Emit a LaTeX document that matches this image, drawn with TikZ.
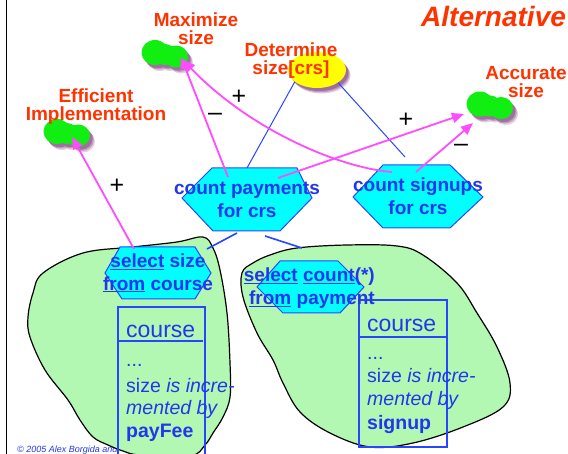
\documentclass[tikz,border=0pt]{standalone}
\usepackage{fontspec}
\setmainfont{Liberation Sans}
\usetikzlibrary{arrows.meta,shapes.geometric}
\definecolor{redc}{HTML}{FF3300}
\definecolor{bluet}{HTML}{2236EE}
\definecolor{blueb}{HTML}{2846FF}
\definecolor{cyanf}{HTML}{00FFFF}
\definecolor{magc}{HTML}{FF4CFF}
\definecolor{goalgreen}{HTML}{11EE11}
\definecolor{blobgreen}{HTML}{B2F7B2}
\definecolor{shadowc}{HTML}{6A1A6A}
\definecolor{yel}{HTML}{FFFF00}
\tikzset{
  goallabel/.style={text=redc, font=\fontsize{19}{18}\selectfont\bfseries, align=center, inner sep=0},
  tasktext/.style={text=bluet, font=\fontsize{19}{22.5}\selectfont\bfseries, align=center, inner sep=0},
  taskshape/.style={fill=cyanf, draw=blueb, line width=1pt},
  contrib/.style={draw=magc, line width=1.8pt, -{Triangle[length=12pt,width=10pt]}},
  decomp/.style={draw=blueb, line width=1pt},
  decompthick/.style={draw=blueb, line width=1.6pt},
  signlabel/.style={font=\fontsize{25}{25}\selectfont, inner sep=0},
  blob/.style={fill=blobgreen, draw=black, line width=1.2pt},
  classbox/.style={draw=blueb, line width=1.2pt},
  classtext/.style={text=bluet, font=\fontsize{19.5}{23}\selectfont, inner sep=0, anchor=base west},
  classname/.style={text=bluet, font=\fontsize{23}{23}\selectfont, inner sep=0, anchor=base west},
  softgoal/.pic={
    \foreach \dx/\dy/\op in {5/6/0.2,3.8/4.5/0.28,2.6/3.2/0.35}{
      \fill[shadowc, opacity=\op, shift={(\dx,\dy)}]
        (-10,-2) ellipse [x radius=13.5pt, y radius=12.5pt]
        (11,2) ellipse [x radius=12pt, y radius=11pt]
        (0,0) ellipse [x radius=11pt, y radius=10.5pt];
    }
    \fill[goalgreen]
      (-10,-2) ellipse [x radius=13.5pt, y radius=12.5pt]
      (11,2) ellipse [x radius=12pt, y radius=11pt]
      (0,0) ellipse [x radius=11pt, y radius=10.5pt];
  }
}
\begin{document}
\begin{tikzpicture}[x=1pt,y=-1pt]
\useasboundingbox (0,0) rectangle (568,454);
\clip (0,0) rectangle (568,454);
\fill[white] (0,0) rectangle (568,454);
\draw[line width=1.3pt] (6.5,0) -- (6.5,454);

% copyright
\node[anchor=base west, inner sep=0, text=bluet, font=\fontsize{9}{9}\selectfont\itshape] (copyr) at (17,452) {© 2005 Alex Borgida  and};

% title
\node[anchor=base west, inner sep=0, text=redc, font=\fontsize{28}{28}\selectfont\bfseries\itshape] (title) at (421,27) {Alternative};

% blobs
\draw[blob] plot[smooth cycle, tension=0.6] coordinates {
 (28,317) (33,293) (43,273) (83,253) (133,247) (177,242) (203,237) (213,248)
 (220,270) (227,313) (230,363) (230,397) (223,417) (213,433) (205,445) (190,456)
 (140,455) (123,451) (108,445) (93,437) (80,420) (68,400) (45,370) (30,337)};
\draw[blob] plot[smooth cycle, tension=0.6] coordinates {
 (242,273) (243,297) (257,333) (273,360) (283,383) (300,412) (330,433) (370,447)
 (413,443) (463,427) (503,407) (510,383) (497,347) (477,313) (457,283) (423,255)
 (397,246) (347,245) (297,248) (270,255) (253,263)};

% class boxes
\draw[classbox] (118,307) rectangle (205,460);
\draw[classbox] (118,341) -- (203,341);
\node[classname] (c1a) at (126,338) {course};
\node[classtext] (c1b) at (126,367) {...};
\node[classtext] (c1c) at (126,392) {size \textit{is incre-}};
\node[classtext] (c1d) at (126,414) {\textit{mented by}};
\node[classtext] (c1e) at (126,437) {\textbf{payFee}};

\draw[classbox] (359,300) rectangle (447,447);
\draw[classbox] (359,337) -- (448,337);
\node[classname] (c2a) at (367,332) {course};
\node[classtext] (c2b) at (367,360) {...};
\node[classtext] (c2c) at (367,383) {size \textit{is incre-}};
\node[classtext] (c2d) at (367,406) {\textit{mented by}};
\node[classtext] (c2e) at (367,430) {\textbf{signup}};

% inner hexagons
\draw[taskshape] (120,247) -- (195,247) -- (211,273) -- (195,299) -- (122,299) -- (105,273) -- cycle;
\node[tasktext] (ss) at (158,273) {\underline{select} size\\\underline{from} course};
\draw[taskshape] (280,261) -- (338,261) -- (364,287) -- (340,313) -- (283,313) -- (257,287) -- cycle;
\node[tasktext, align=right, anchor=east] (sc) at (375,288) {\underline{select} \underline{count}(*)\\\underline{from} payment};

% softgoals
\pic at (165,54.5) {softgoal};
\pic at (67,133.5) {softgoal};
\pic at (490,106) {softgoal};
\node[goallabel] (maxl) at (196,29) {Maximize\\size};
\node[goallabel] (effl) at (96,107) {Efficient\\Implementation};
\node[goallabel] (accl) at (526,82) {Accurate\\size};

% determine ellipse
\foreach \dx/\dy/\op in {4.5/5.5/0.22,3.5/4.2/0.28,2.5/3/0.35}{
  \fill[shadowc, opacity=\op] (317+\dx,70+\dy) ellipse [x radius=29pt, y radius=18pt];
}
\node[fill=yel, ellipse, minimum width=58pt, minimum height=36pt, inner sep=0] (det) at (317,70) {};
\node[goallabel] (detl) at (291,61) {Determine\\size[crs]};

% top hexagons
\draw[taskshape] (212,168) -- (297,168) -- (312,198) -- (280,231) -- (213,231) -- (182,198) -- cycle;
\draw[taskshape] (383,165) -- (450,165) -- (483,197) -- (450,228) -- (383,228) -- (353,197) -- cycle;

% decomposition links
\coordinate (cpTop) at (247,168);
\coordinate (csTop) at (405,157);
\draw[decomp] (det.208.6) -- (cpTop);
\draw[decomp] (det.329) -- (csTop);
\coordinate (cpBl) at (237,233);
\coordinate (cpBr) at (265,236);
\coordinate (blobL) at (207,249);
\coordinate (blobR) at (302,248);
\draw[decompthick] (cpBl) -- (blobL);
\draw[decompthick] (cpBr) -- (blobR);

% contributions
\coordinate (cpA) at (228,177);
\coordinate (maxTip) at (181,57);
\coordinate (cpB) at (278,178);
\coordinate (accTip1) at (464,114);
\coordinate (csA) at (392,172);
\coordinate (maxTip2) at (183,60);
\coordinate (csB) at (416,172);
\coordinate (accTip2) at (473,123);
\coordinate (ssA) at (134,249);
\coordinate (effTip) at (72,137);
\draw[contrib] (cpA) -- (maxTip);
\draw[contrib] (cpB) -- (accTip1);
\draw[contrib] (csA) .. controls (340,168) and (250,130) .. (maxTip2);
\draw[contrib] (csB) -- (accTip2);
\draw[contrib] (ssA) -- (effTip);

\node[tasktext] (cp) at (247,200) {count payments\\for crs};
\node[tasktext] (cs) at (418,196) {count signups\\for crs};

% signs
\node[signlabel] (s1) at (239,97) {+};
\node[signlabel] (s2) at (215,117) {–};
\node[signlabel] (s3) at (117,186) {+};
\node[signlabel] (s4) at (406,120) {+};
\node[signlabel] (s5) at (461,148) {–};
\end{tikzpicture}
\end{document}
